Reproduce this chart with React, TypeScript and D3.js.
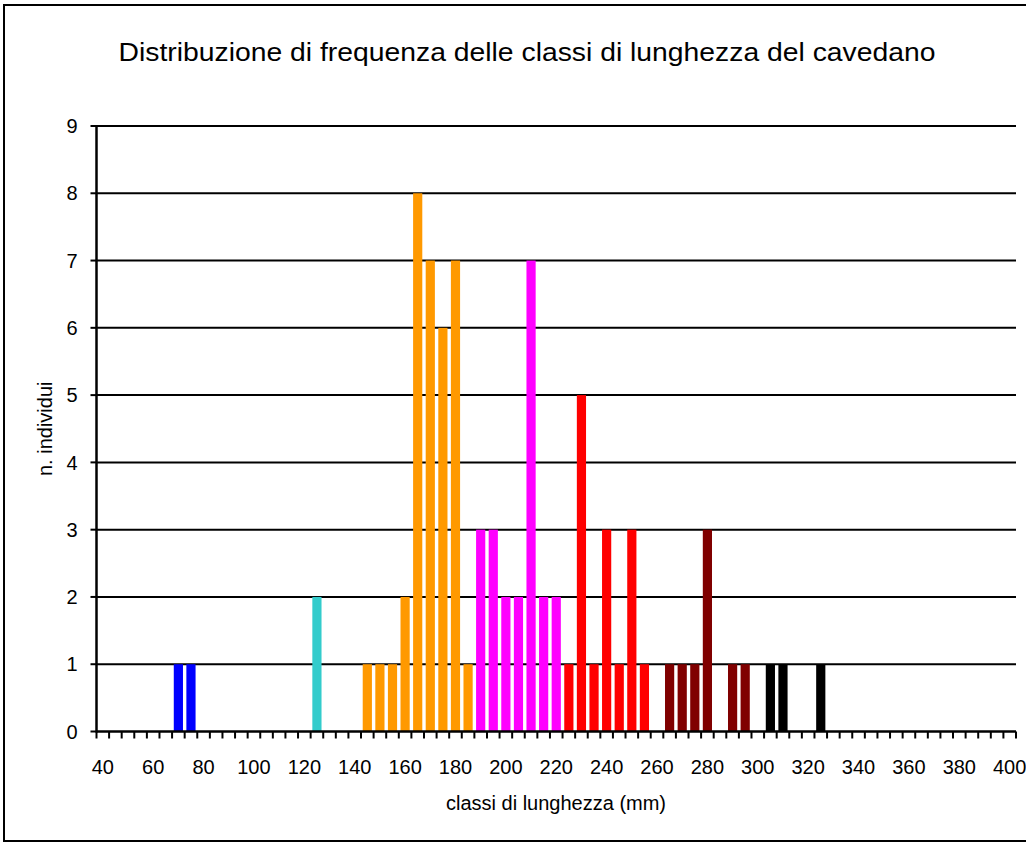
import React from "react";
import * as d3 from "d3";

const classes = [
  40, 45, 50, 55, 60, 65, 70, 75, 80, 85, 90, 95, 100, 105, 110, 115, 120, 125, 130, 135,
  140, 145, 150, 155, 160, 165, 170, 175, 180, 185, 190, 195, 200, 205, 210, 215, 220, 225,
  230, 235, 240, 245, 250, 255, 260, 265, 270, 275, 280, 285, 290, 295, 300, 305, 310, 315,
  320, 325, 330, 335, 340, 345, 350, 355, 360, 365, 370, 375, 380, 385, 390, 395, 400,
];

const counts = [
  0, 0, 0, 0, 0, 0, 1, 1, 0, 0, 0, 0, 0, 0, 0, 0, 0, 2, 0, 0,
  0, 1, 1, 1, 2, 8, 7, 6, 7, 1, 3, 3, 2, 2, 7, 2, 2, 1,
  5, 1, 3, 1, 3, 1, 0, 1, 1, 1, 3, 0, 1, 1, 0, 1, 1, 0,
  0, 1, 0, 0, 0, 0, 0, 0, 0, 0, 0, 0, 0, 0, 0, 0, 0,
];

// upper limit (exclusive) of each age cohort, and its colour
const cohortLimits = [100, 140, 188, 223, 260, 300, 1000];
const cohortColors = ["#0000FF", "#33CCCC", "#FF9900", "#FF00FF", "#FF0000", "#800000", "#000000"];

const yTicks = [0, 1, 2, 3, 4, 5, 6, 7, 8, 9];
const xLabels = [40, 60, 80, 100, 120, 140, 160, 180, 200, 220, 240, 260, 280, 300, 320, 340, 360, 380, 400];

const title = "Distribuzione di frequenza delle classi di lunghezza del cavedano";
const xTitle = "classi di lunghezza (mm)";
const yTitle = "n. individui";

export default function App() {
  const W = 1026;
  const H = 843;
  const left = 96.5;
  const right = 1016;
  const top = 126;
  const bottom = 731.5;
  const font = "'Liberation Sans', Arial, sans-serif";

  const x = d3
    .scaleBand<number>()
    .domain(classes)
    .range([left, right])
    .paddingInner(0.27)
    .paddingOuter(0.135);
  const y = d3.scaleLinear().domain([0, 9]).range([bottom, top]);
  const step = x.step();
  const x0 = x(classes[0])! - x.paddingOuter() * step;

  const colorOf = (c: number) => {
    const i = cohortLimits.findIndex((l) => c < l);
    return cohortColors[i];
  };

  const tickXs = d3.range(classes.length + 1).map((i) => x0 + i * step);

  return (
    <svg
      width={W}
      height={H}
      style={{ position: "absolute", left: 0, top: 0, background: "#fff" }}
      fontFamily={font}
    >
      <rect x={0} y={0} width={W} height={H} fill="#fff" />
      <rect x={4} y={5} width={W + 10} height={836} fill="none" stroke="#000" strokeWidth={2} />
      <text
        x={527}
        y={61}
        textAnchor="middle"
        fontSize={26}
        fill="#000"
        textLength={817}
        lengthAdjust="spacingAndGlyphs"
      >
        {title}
      </text>
      {/* gridlines */}
      {yTicks.map((t) =>
        t === 0 ? null : (
          <line key={"g" + t} x1={left} x2={right} y1={y(t)} y2={y(t)} stroke="#000" strokeWidth={2} />
        )
      )}
      {/* bars */}
      {classes.map((c, i) =>
        counts[i] > 0 ? (
          <rect
            key={"b" + c}
            x={x(c)}
            y={y(counts[i])}
            width={x.bandwidth()}
            height={bottom - y(counts[i])}
            fill={colorOf(c)}
          />
        ) : null
      )}
      {/* y axis */}
      <line x1={left} x2={left} y1={top - 1} y2={bottom + 1} stroke="#000" strokeWidth={2.5} />
      {yTicks.map((t) => (
        <g key={"y" + t}>
          <line x1={left - 6} x2={left} y1={y(t)} y2={y(t)} stroke="#000" strokeWidth={2} />
          <text x={left - 19} y={y(t)} dy="0.36em" textAnchor="end" fontSize={20} fill="#000">
            {t}
          </text>
        </g>
      ))}
      {/* x axis */}
      <line x1={left} x2={right} y1={bottom} y2={bottom} stroke="#000" strokeWidth={2.5} />
      {tickXs.map((tx, i) => (
        <line key={"t" + i} x1={tx} x2={tx} y1={bottom} y2={bottom + 7} stroke="#000" strokeWidth={2} />
      ))}
      {xLabels.map((v) => (
        <text key={"xl" + v} x={x(v)! + x.bandwidth() / 2} y={774} textAnchor="middle" fontSize={20} fill="#000">
          {v}
        </text>
      ))}
      <text x={556} y={810} textAnchor="middle" fontSize={20} fill="#000">
        {xTitle}
      </text>
      <text
        transform={`translate(52,${(top + bottom) / 2}) rotate(-90)`}
        textAnchor="middle"
        fontSize={20}
        fill="#000"
      >
        {yTitle}
      </text>
    </svg>
  );
}
